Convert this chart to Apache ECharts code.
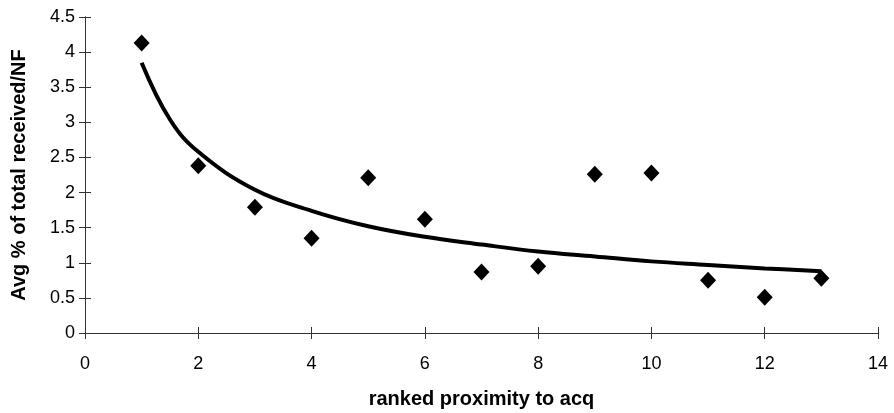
<!DOCTYPE html>
<html>
<head>
<meta charset="utf-8">
<script src="https://cdn.jsdelivr.net/npm/echarts@6/dist/echarts.min.js"></script>
<style>
  html, body { margin: 0; padding: 0; background: #fff; }
  #chart { width: 894px; height: 413px; }
</style>
</head>
<body>
<div id="chart"></div>
<script>
// ranked proximity (x) and measured values
const rangos = [1, 2, 3, 4, 5, 6, 7, 8, 9, 10, 11, 12, 13];
const promedios = [4.13, 2.38, 1.79, 1.35, 2.21, 1.62, 0.87, 0.95, 2.26, 2.28, 0.75, 0.51, 0.78];

// trend curve
const tendenciaX = [1, 1.5, 2, 3, 4, 5, 6, 7, 8, 9, 10, 11, 12, 13];
const tendenciaY = [3.85, 3.04, 2.58, 2.04, 1.74, 1.52, 1.37, 1.26, 1.16, 1.09, 1.02, 0.97, 0.92, 0.88];

const fuente = '"Liberation Sans", Arial, sans-serif';
const colorEje = '#333';

const contenedor = document.getElementById('chart');
const miGrafico = echarts.init(contenedor);

const ejeX = {
    type: 'value', min: 0, max: 14, interval: 2,
    axisLine: { show: true, lineStyle: { color: colorEje, width: 1 } },
    splitLine: { show: false }
};
const ejeY = {
    type: 'value', min: 0, max: 4.5, interval: 0.5,
    axisLine: { show: true, lineStyle: { color: colorEje, width: 1 } },
    splitLine: { show: false }
};

const opciones = {
    animation: false,
    backgroundColor: '#fff',
    grid: { left: 85, right: 16, top: 17, bottom: 80, outerBoundsMode: 'none', containLabel: false },
    xAxis: [
        Object.assign({}, ejeX, {
            axisTick: { show: true, inside: false, length: 6, lineStyle: { color: colorEje } },
            axisLabel: { color: '#000', fontSize: 18, fontFamily: fuente, margin: 22 },
            name: 'ranked proximity to acq',
            nameLocation: 'middle',
            nameGap: 56,
            nameTextStyle: { color: '#000', fontSize: 20, fontWeight: 'bold', fontFamily: fuente }
        }),
        Object.assign({}, ejeX, {
            position: 'bottom',
            axisTick: { show: true, inside: true, length: 6, lineStyle: { color: colorEje } },
            axisLabel: { show: false }
        })
    ],
    yAxis: [
        Object.assign({}, ejeY, {
            axisTick: { show: true, inside: false, length: 6, lineStyle: { color: colorEje } },
            axisLabel: { color: '#000', fontSize: 18, fontFamily: fuente, margin: 10 },
            name: 'Avg % of total received/NF',
            nameLocation: 'middle',
            nameGap: 56,
            nameTextStyle: { color: '#000', fontSize: 20, fontWeight: 'bold', fontFamily: fuente }
        }),
        Object.assign({}, ejeY, {
            position: 'left',
            axisTick: { show: true, inside: true, length: 6, lineStyle: { color: colorEje } },
            axisLabel: { show: false }
        })
    ],
    series: [
        {
            type: 'line',
            data: tendenciaX.map((x, i) => [x, tendenciaY[i]]),
            smooth: 0.4,
            showSymbol: false,
            lineStyle: { color: '#000', width: 4 },
            z: 2
        },
        {
            type: 'scatter',
            data: rangos.map((x, i) => [x, promedios[i]]),
            symbol: 'diamond',
            symbolSize: [16, 17],
            itemStyle: { color: '#000', opacity: 1 },
            z: 3
        }
    ]
};

miGrafico.setOption(opciones);
</script>
</body>
</html>
